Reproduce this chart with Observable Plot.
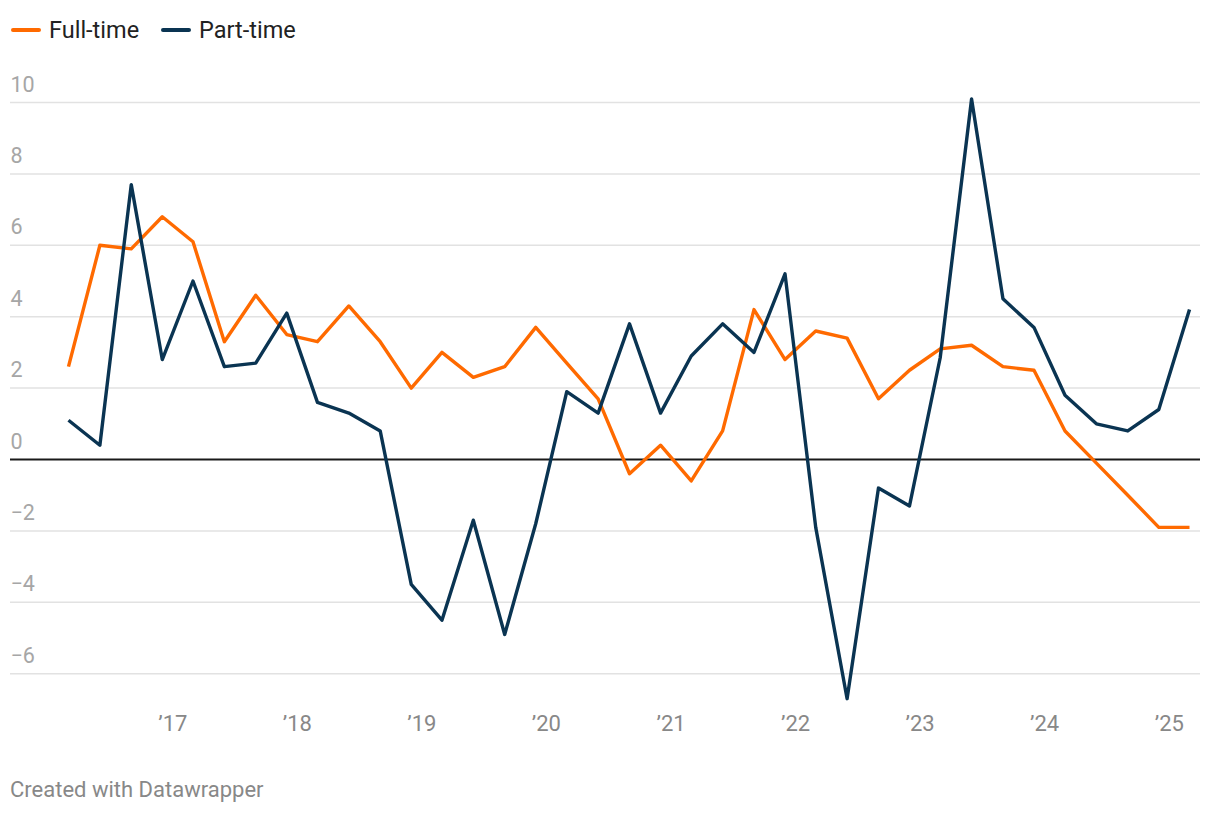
<!DOCTYPE html>
<html>
<head>
<meta charset="utf-8">
<script src="https://cdn.jsdelivr.net/npm/d3@7"></script>
<script src="https://cdn.jsdelivr.net/npm/@observablehq/plot@0.6"></script>
<style>
  body { margin: 0; background: #fff; font-family: Roboto, "Noto Sans", sans-serif; }
  #legend { height: 60px; display: flex; align-items: center; padding-left: 11px; font-size: 23.5px; color: #222; }
  .item { display: flex; align-items: center; margin-right: 22px; }
  .sw { width: 30px; height: 4px; border-radius: 2px; margin-right: 8px; }
  #chart svg { display: block; }
  #footer { margin-top: 28px; padding-left: 10px; font-size: 22px; color: #888; line-height: 24px; }
</style>
</head>
<body>
<div id="legend"></div>
<div id="chart"></div>
<div id="footer">Created with Datawrapper</div>
<script>
const quarters = ["2016-03","2016-06","2016-09","2016-12","2017-03","2017-06","2017-09","2017-12",
  "2018-03","2018-06","2018-09","2018-12","2019-03","2019-06","2019-09","2019-12",
  "2020-03","2020-06","2020-09","2020-12","2021-03","2021-06","2021-09","2021-12",
  "2022-03","2022-06","2022-09","2022-12","2023-03","2023-06","2023-09","2023-12",
  "2024-03","2024-06","2024-09","2024-12","2025-03"];
const fullTime = [2.6,6.0,5.9,6.8,6.1,3.3,4.6,3.5,3.3,4.3,3.3,2.0,3.0,2.3,2.6,3.7,2.7,1.7,-0.4,0.4,-0.6,0.8,4.2,2.8,3.6,3.4,1.7,2.5,3.1,3.2,2.6,2.5,0.8,-0.1,-1.0,-1.9,-1.9];
const partTime = [1.1,0.4,7.7,2.8,5.0,2.6,2.7,4.1,1.6,1.3,0.8,-3.5,-4.5,-1.7,-4.9,-1.8,1.9,1.3,3.8,1.3,2.9,3.8,3.0,5.2,-1.9,-6.7,-0.8,-1.3,2.85,10.1,4.5,3.7,1.8,1.0,0.8,1.4,4.2];
const seriesNames = ["Full-time","Part-time"];
const seriesColors = ["#ff6a00","#0a3452"];
const yTicks = [-6,-4,-2,0,2,4,6,8,10];
const xTickYears = [2017,2018,2019,2020,2021,2022,2023,2024,2025];
const xTickLabels = ["’17","’18","’19","’20","’21","’22","’23","’24","’25"];

const parseQ = s => new Date(Date.UTC(+s.slice(0,4), +s.slice(5,7) - 1, 1));
const data = [];
quarters.forEach((q, i) => {
  data.push({date: parseQ(q), value: fullTime[i], series: seriesNames[0]});
  data.push({date: parseQ(q), value: partTime[i], series: seriesNames[1]});
});
const xTickDates = xTickYears.map(y => new Date(Date.UTC(y, 0, 1)));
const labelOf = new Map(xTickDates.map((d, i) => [+d, xTickLabels[i]]));
const fmt = d3.format("d");

const legend = document.getElementById("legend");
seriesNames.forEach((n, i) => {
  const it = document.createElement("div");
  it.className = "item";
  it.innerHTML = `<span class="sw" style="background:${seriesColors[i]}"></span><span>${n}</span>`;
  legend.appendChild(it);
});

const chart = Plot.plot({
  width: 1220,
  height: 690,
  marginLeft: 10,
  marginRight: 20,
  marginTop: 6,
  marginBottom: 41,
  style: {fontFamily: "Roboto, sans-serif", background: "#fff"},
  x: {type: "utc", domain: [parseQ(quarters[0]), parseQ(quarters[quarters.length - 1])], range: [68, 1189]},
  y: {domain: [-7, 11], range: [648.9, 6.3], axis: null},
  color: {domain: seriesNames, range: seriesColors},
  marks: [
    Plot.ruleY(yTicks.filter(d => d !== 0), {stroke: "#e2e2e2", strokeWidth: 1.5}),
    Plot.text(yTicks, {y: d => d, text: d => fmt(d), frameAnchor: "left", textAnchor: "start", lineAnchor: "bottom", dy: -11, fontSize: 21.5, fill: "#a6a6a6"}),
    Plot.axisX({ticks: xTickDates, tickFormat: d => labelOf.get(+d), tickSize: 0, tickPadding: 6, fontSize: 22, color: "#888", label: null}),
    Plot.ruleY([0], {stroke: "#1a1a1a", strokeWidth: 2}),
    Plot.line(data, {x: "date", y: "value", z: "series", stroke: "series", strokeWidth: 3.4, strokeLinejoin: "round", strokeLinecap: "butt"})
  ]
});
document.getElementById("chart").appendChild(chart);
</script>
</body>
</html>
